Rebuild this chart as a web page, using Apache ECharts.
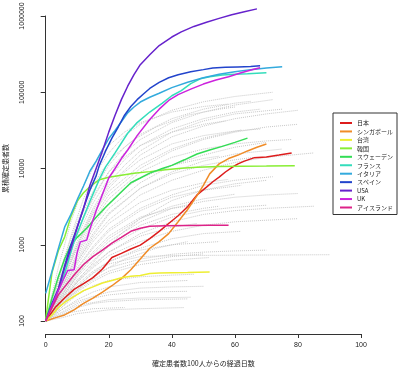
<!DOCTYPE html>
<html><head><meta charset="utf-8">
<script src="https://cdn.jsdelivr.net/npm/echarts@6/dist/echarts.min.js"></script>
<style>html,body{margin:0;padding:0;background:#fff}#c{width:400px;height:369px}</style>
</head><body><div id="c"></div>
<script>
// ---- categories / labels ----
const countryNames = ['日本','シンガポール','台湾','韓国','スウェーデン','フランス','イタリア','スペイン','USA','UK','アイスランド'];
const countryColors = ['#DD1C1C','#F08C28','#EEEE33','#88EE33','#33DD55','#33DDBB','#33AADD','#2244CC','#6622CC','#CC22DD','#DD2288'];
const xTicks = [0,20,40,60,80,100];
const yTicks = [100,1000,10000,100000,1000000];
const xTitle = '確定患者数100人からの経過日数';
const yTitle = '累積確定患者数';

// ---- highlighted countries: [day, cumulative cases] ----
const japan = [[0,100],[3,150],[6,200],[9,260],[12,310],[15,370],[18,480],[21,680],[24,770],[27,880],[30,990],[33,1200],[36,1500],[39,1900],[42,2400],[45,3150],[48,4500],[51,5700],[53,6700],[55,7700],[57,9000],[59,10300],[61,11500],[63,12500],[66,13800],[70,14200],[74,15000],[78,16000]];
const singapore = [[0,100],[3,110],[6,120],[9,140],[12,170],[15,200],[18,240],[21,290],[24,360],[27,470],[30,650],[33,900],[36,1100],[39,1400],[42,2000],[45,2900],[48,4400],[50,6000],[52,8500],[55,11500],[58,13500],[61,15000],[64,17000],[67,19000],[70,21000]];
const taiwan = [[0,100],[2,120],[4,150],[6,175],[9,210],[12,250],[15,280],[18,315],[21,340],[24,370],[27,385],[30,395],[33,420],[36,425],[40,428],[45,432],[52,440]];
const korea = [[0,104],[2,433],[4,833],[6,1261],[8,2337],[10,3736],[12,4812],[14,5766],[17,7134],[20,7700],[24,8162],[28,8650],[33,9100],[38,9600],[43,10100],[48,10400],[55,10600],[62,10700],[70,10780],[79,10900]];
const sweden = [[0,100],[2,200],[4,380],[6,650],[8,1000],[10,1250],[13,1650],[16,2300],[19,3100],[23,4500],[27,6500],[30,7500],[33,8700],[37,10000],[40,11000],[44,13000],[48,15500],[52,17500],[56,19500],[60,22000],[64,25000]];
const france = [[0,100],[3,200],[6,420],[9,1100],[12,2300],[14,3700],[17,7200],[19,10500],[22,16000],[26,29000],[29,40000],[33,55000],[37,72000],[40,90000],[43,105000],[46,130000],[49,150000],[52,160000],[56,168000],[60,172000],[64,175000],[70,180000]];
const italy = [[0,230],[2,450],[4,890],[6,1700],[8,2500],[10,3900],[12,5900],[14,9200],[16,12500],[18,17700],[20,24700],[22,31500],[24,41000],[26,53600],[28,64000],[30,74400],[33,86000],[36,97000],[40,115000],[45,135000],[50,155000],[55,172000],[60,186000],[65,198000],[70,208000],[75,216000]];
const spain = [[0,100],[2,170],[4,260],[6,530],[8,1000],[10,1700],[12,3000],[14,5200],[16,8000],[17,11000],[19,17000],[21,25000],[23,35000],[25,50000],[27,65000],[29,80000],[31,95000],[33,112000],[36,135000],[39,155000],[42,170000],[46,186000],[50,198000],[53,208000],[57,212000],[61,215000],[65,218000],[68,222000]];
const usa = [[0,100],[2,160],[4,260],[6,500],[8,900],[10,1700],[12,3000],[14,6000],[16,10000],[18,17000],[20,30000],[22,50000],[24,80000],[26,120000],[28,170000],[30,230000],[33,310000],[36,410000],[40,530000],[43,620000],[47,730000],[51,830000],[55,930000],[59,1040000],[63,1140000],[67,1240000]];
const uk = [[0,100],[2,160],[4,250],[6,380],[7,460],[9,470],[10,800],[11,1090],[13,1150],[14,1600],[16,2800],[18,4600],[20,7500],[22,10000],[24,13500],[26,17500],[29,27000],[33,44000],[36,60000],[39,78000],[42,93000],[46,110000],[50,128000],[54,145000],[58,160000],[62,180000],[66,200000],[68,210000]];
const iceland = [[0,100],[2,150],[4,220],[6,280],[9,400],[12,550],[15,700],[18,850],[21,1050],[24,1250],[27,1500],[30,1650],[33,1750],[38,1780],[45,1795],[52,1800],[58,1803]];
const highlighted = [japan,singapore,taiwan,korea,sweden,france,italy,spain,usa,uk,iceland];

// ---- other countries (grey dotted) ----
const g01 = [[0,100],[5,400],[10,1500],[15,4000],[20,9000],[25,16000],[30,24000],[40,40000],[50,55000],[60,68000],[72,80000]];
const g02 = [[0,100],[5,350],[10,1100],[15,3000],[20,6500],[25,11000],[30,17000],[40,30000],[50,42000],[60,52000],[75,60000]];
const g03 = [[0,100],[5,300],[10,900],[15,2200],[20,4500],[30,10000],[40,17000],[50,24000],[60,30000],[70,35000],[80,38000]];
const g04 = [[0,100],[5,280],[10,700],[15,1600],[20,3000],[30,6500],[40,11000],[50,15000],[60,19000],[70,22000]];
const g05 = [[0,100],[5,250],[10,600],[15,1200],[20,2100],[30,4500],[40,7000],[50,9500],[60,12000],[70,14000],[85,16000]];
const g06 = [[0,100],[5,230],[10,500],[15,950],[20,1600],[30,3000],[40,4500],[50,6000],[60,7000],[72,7800]];
const g07 = [[0,100],[5,220],[10,420],[15,750],[20,1200],[30,2200],[40,3200],[50,4000],[60,4600]];
const g08 = [[0,100],[5,200],[10,380],[15,620],[20,950],[30,1600],[40,2300],[50,2800],[60,3100],[70,3300]];
const g09 = [[0,100],[5,180],[10,320],[15,500],[20,720],[30,1100],[40,1500],[50,1800],[60,2000],[80,2200]];
const g10 = [[0,100],[5,170],[10,280],[15,420],[20,560],[30,700],[40,720],[60,730],[90,740]];
const g11 = [[0,100],[5,160],[10,250],[15,350],[20,450],[30,600],[40,700],[50,760]];
const g12 = [[0,100],[5,150],[10,220],[15,290],[20,340],[30,380],[40,400],[47,410]];
const g13 = [[0,100],[5,140],[10,190],[15,240],[20,280],[30,320],[45,340]];
const g14 = [[0,100],[5,130],[10,170],[15,200],[20,220],[30,240],[45,245]];
const g15 = [[0,100],[5,120],[10,150],[15,170],[20,180],[30,190],[45,195]];
const g16 = [[0,100],[5,110],[10,125],[20,140],[30,145],[44,150]];
const g17 = [[0,100],[8,130],[15,145],[25,150]];
const g18 = [[0,100],[4,350],[8,1300],[12,4000],[16,9000],[20,16000],[25,27000],[30,38000],[40,58000],[50,75000],[60,88000],[72,100000]];
const g19 = [[0,100],[5,450],[10,1800],[15,5000],[20,11000],[25,19000],[30,28000],[40,45000],[50,60000],[60,72000],[65,76000]];
const g20 = [[0,100],[5,320],[10,1000],[15,2600],[20,5500],[25,9000],[30,13000],[40,21000],[50,27000],[60,31000],[68,33000]];
const g21 = [[0,100],[5,260],[10,750],[15,1800],[20,3500],[25,5500],[30,7500],[40,11000],[50,13500],[55,14500]];
const g22 = [[0,100],[5,240],[10,550],[15,1100],[20,1900],[30,3600],[40,5200],[50,6500],[58,7200]];
const g23 = [[0,100],[5,210],[10,450],[15,800],[20,1300],[30,2300],[40,3000],[45,3200]];
const g24 = [[0,100],[5,190],[10,350],[15,550],[20,800],[30,1300],[40,1700],[48,1900]];
const g25 = [[0,100],[5,175],[10,300],[15,450],[20,600],[30,850],[40,1000],[55,1100]];
const g26 = [[0,100],[5,260],[10,800],[15,2000],[20,4000],[30,9000],[40,14000],[50,18000],[60,21000],[70,23000],[78,24000]];
const g27 = [[0,100],[5,300],[10,950],[15,2500],[20,5000],[30,11000],[40,18000],[50,25000],[62,32000]];
const g28 = [[0,100],[5,200],[10,400],[15,700],[20,1100],[30,2000],[40,3000],[50,3700],[60,4200],[70,4500],[80,4700]];
const g29 = [[0,100],[5,165],[10,260],[15,380],[20,500],[30,650],[40,750],[50,800],[60,830],[70,850]];
const g30 = [[0,100],[6,200],[12,420],[18,800],[24,1400],[30,2200],[40,3800],[50,5200],[60,6300],[70,7000]];
const g31 = [[0,100],[3,250],[6,700],[10,2000],[14,5000],[18,9500],[22,15000],[28,24000],[35,35000],[45,50000],[55,60000],[60,64000]];
const g32 = [[0,100],[5,140],[10,180],[15,210],[20,240],[30,270],[40,280],[50,285]];
const g33 = [[0,100],[5,125],[10,160],[20,190],[30,200],[46,205]];
const g34 = [[0,100],[4,300],[8,900],[12,2400],[16,5000],[20,9000],[25,14000],[30,20000],[40,30000],[50,38000],[57,42000]];
const g35 = [[0,100],[5,270],[10,650],[15,1400],[20,2600],[30,5500],[40,8500],[50,11000],[60,13000],[66,14000]];
const g36 = [[0,100],[5,240],[10,600],[15,1300],[20,2500],[30,5500],[40,9000],[50,12500],[60,15500],[75,18000]];
const g37 = [[0,100],[5,380],[10,1300],[15,3500],[20,7500],[25,13000],[30,20000],[40,33000],[50,45000],[60,55000],[68,60000]];
const g38 = [[0,100],[5,210],[10,480],[15,900],[20,1500],[30,2800],[40,4200],[50,5200],[62,6000]];
const g39 = [[0,100],[5,190],[10,400],[15,700],[20,1000],[30,1800],[40,2500],[50,3000],[55,3200]];
const g40 = [[0,100],[5,160],[10,280],[15,430],[20,600],[30,900],[40,1200],[50,1400],[62,1500]];
const g41 = [[0,100],[4,500],[8,2000],[12,6000],[16,12000],[20,20000],[25,30000],[30,40000],[40,55000],[50,65000],[58,70000]];
const g42 = [[0,100],[5,330],[10,1000],[15,2800],[20,6000],[30,15000],[40,26000],[50,36000],[60,45000],[70,52000],[80,58000]];
const g43 = [[0,100],[5,150],[10,240],[15,330],[20,420],[30,550],[40,630],[52,680]];
const g44 = [[0,100],[5,180],[10,330],[15,520],[20,800],[30,1400],[40,2000],[50,2500],[60,2800],[70,3000],[85,3200]];
const g45 = [[0,100],[6,180],[12,300],[18,450],[25,650],[35,900],[45,1100]];
const others = [g01,g02,g03,g04,g05,g06,g07,g08,g09,g10,g11,g12,g13,g14,g15,g16,g17,g18,g19,g20,g21,g22,g23,g24,g25,g26,g27,g28,g29,g30,g31,g32,g33,g34,g35,g36,g37,g38,g39,g40,g41,g42,g43,g44,g45];

const FONT = "'Liberation Sans', Arial, sans-serif";
const CJK = "'Noto Sans CJK JP', sans-serif";

const series = [];
others.forEach((d) => {
  series.push({type:'line', data:d, symbol:'none', silent:true, clip:false,
    lineStyle:{color:'#c8c8c8', width:1, type:'dotted'}, z:1, legendHoverLink:false});
});
highlighted.forEach((d, i) => {
  series.push({type:'line', name:countryNames[i], data:d, symbol:'none', showSymbol:false, clip:false,
    color:countryColors[i], lineStyle:{color:countryColors[i], width:1.5}, z:2});
});

const chart = echarts.init(document.getElementById('c'), null, {renderer:'canvas'});
chart.setOption({
  animation:false,
  backgroundColor:'#fff',
  grid:{left:45.7, right:39, top:16, bottom:48, containLabel:false, outerBoundsMode:'none'},
  xAxis:{type:'value', min:xTicks[0], max:xTicks[xTicks.length-1], interval:20, offset:13,
    axisLine:{show:true, lineStyle:{color:'#333', width:1}},
    axisTick:{show:true, length:4, lineStyle:{color:'#333'}},
    splitLine:{show:false},
    axisLabel:{fontSize:7, color:'#222', fontFamily:FONT, margin:8,
      formatter:(v)=> xTicks.includes(v) ? String(v) : ''},
    name:xTitle, nameLocation:'middle', nameGap:26,
    nameTextStyle:{fontSize:7, color:'#222', fontFamily:CJK}},
  yAxis:{type:'log', logBase:10, min:yTicks[0], max:yTicks[yTicks.length-1], offset:10.7,
    axisLine:{show:true, lineStyle:{color:'#333', width:1}},
    axisTick:{show:true, length:5, lineStyle:{color:'#333'}},
    splitLine:{show:false},
    axisLabel:{fontSize:7, color:'#222', fontFamily:FONT, rotate:90, margin:9,
      formatter:(v)=>{ const r = Math.round(v); return yTicks.includes(r) ? String(r) : ''; }},
    name:yTitle, nameLocation:'middle', nameGap:26, nameRotate:90,
    nameTextStyle:{fontSize:7, color:'#222', fontFamily:CJK}},
  legend:{data:countryNames, orient:'vertical', left:333, top:113,
    padding:[6,4,3,7], itemGap:0.45, itemWidth:12, itemHeight:2, icon:'rect',
    borderColor:'#333', borderWidth:1, borderRadius:0, backgroundColor:'#fff',
    textStyle:{fontSize:6, lineHeight:8, color:'#222', fontFamily:CJK}, selectedMode:false},
  series:series
});
</script></body></html>
